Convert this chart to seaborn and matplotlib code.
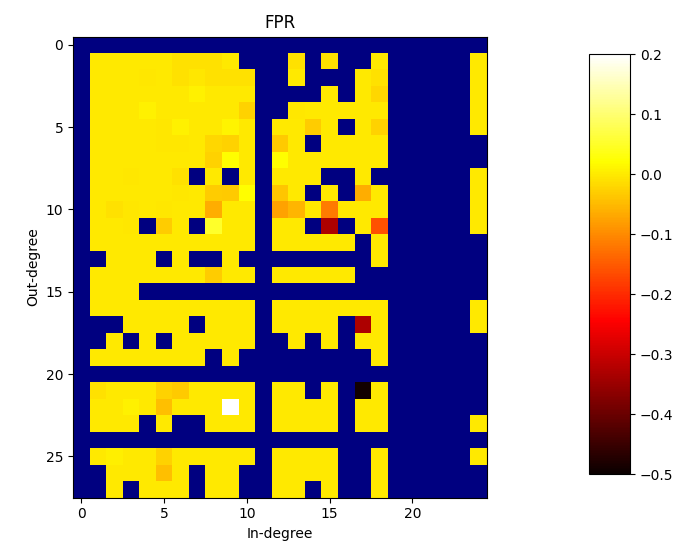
import numpy as np
import pandas as pd
import matplotlib
matplotlib.use("Agg")
import matplotlib.pyplot as plt
import seaborn as sns

_ = np.nan  # degree pair with no observations

# False-positive-rate difference per (out-degree, in-degree) pair
fpr = [
    # 0     1      2      3      4      5      6      7      8      9     10  11  12      13     14     15     16  17     18     19 20 21 22 23  24
    [_,     _,     _,     _,     _,     _,     _,     _,     _,     _,     _,  _,  _,      _,     _,     _,     _,  _,     _,     _, _, _, _, _,  _],
    [_,     0,     0,     0,     0,     0,  -0.01, -0.01, -0.01,     0,     _,  _,  _,  -0.01,     _, -0.01,     _,  _,     0,     _, _, _, _, _,  0],
    [_,     0,     0,     0,-0.005,     0,  -0.01,-0.005, -0.01, -0.01, -0.01,  _,  _,      0,     _,     _,     _,  0, -0.01,     _, _, _, _, _,  0],
    [_,     0,     0,     0,     0,     0,     0, 0.008,     0,     0,     0,  _,  _,      _,     _,     0,     _,  0, -0.02,     _, _, _, _, _,  0],
    [_,     0,     0,     0, 0.008,     0,     0,     0,     0,     0,-0.025,  _,  _, -0.005,     0,     0,     0,  0,     0,     _, _, _, _, _,  0],
    [_,     0,     0,     0,     0,-0.005, 0.008,     0,     0,  0.01,     0,  _,  0,      0, -0.03,     0,     _,  0,-0.025,     _, _, _, _, _,  0],
    [_,     0,     0,     0,     0,-0.005,-0.005,     0, -0.02,-0.025,     0,  _, -0.035,  0,     _,     0,     0,  0,     0,     _, _, _, _, _,  _],
    [_,     0,     0,     0,     0,     0,     0,     0,-0.025,  0.02,     0,  _, 0.022,   0,     0,     0,     0,  0,     0,     _, _, _, _, _,  _],
    [_,     0,     0,-0.005,     0,     0,-0.008,     _,     0,     _,     0,  _,  0,      0,     0,     _,     _,  0,     _,     _, _, _, _, _,  0],
    [_,     0,     0,     0,     0,     0,-0.005,     0, -0.03,-0.035,  0.02,  _, -0.04,  0,     _,     0,     _, -0.065, 0,     _, _, _, _, _,  0],
    [_,     0,-0.008,-0.005,     0,-0.005,     0,     0,-0.065,     0,     0,  _, -0.075, -0.055, 0, -0.115,   0,  0,     0,     _, _, _, _, _,  0],
    [_,     0,     0,-0.005,     _, -0.03,     0,     _,  0.05,     0,     0,  _,  0,      0,     _, -0.33,     _,  0, -0.16,     _, _, _, _, _,  0],
    [_,     0,     0,     0,     0,     0,     0,     0,     0,     0,     0,  _,  0,      0,     0,     0,     0,  _,     0,     _, _, _, _, _,  _],
    [_,     _,     0,     0,     0,     _,     0,     _,     _,     0,     _,  _,  _,      _,     _,     _,     _,  _,     0,     _, _, _, _, _,  _],
    [_,     0,     0,     0,     0,     0,     0,     0, -0.03,     0,     0,  _,  0,      0,     0,     0,     0,  _,     _,     _, _, _, _, _,  _],
    [_,     0,     0,     0,     _,     _,     _,     _,     _,     _,     _,  _,  _,      _,     _,     _,     _,  _,     _,     _, _, _, _, _,  _],
    [_,     0,     0,     0,     0,     0,     0,     0,     0,     0,     0,  _,  0,      0,     0,     0,     0,  0,     0,     _, _, _, _, _,  0],
    [_,     _,     _,     0,     0,     0,     0,     _,     0,     0,     0,  _,  0,      0,     0,     0,     _, -0.33,  0,     _, _, _, _, _,  0],
    [_,     _,     0,     _,     0,     _,     0,     0,     0,     0,     0,  _,  _,      0,     _,     0,     _,  0,     0,     _, _, _, _, _,  _],
    [_,     0,     0,     0,     0,     0,     0,     0,     _,     0,     _,  _,  _,      _,     _,     _,     _,  _,     0,     _, _, _, _, _,  _],
    [_,     _,     _,     _,     _,     _,     _,     _,     _,     _,     _,  _,  _,      _,     _,     _,     _,  _,     _,     _, _, _, _, _,  _],
    [_,-0.008,     0,     0,     0,-0.025,-0.035,     0,     0,     0,     0,  _,  0,      0,     _,     0,     _, -0.49,  0,     _, _, _, _, _,  _],
    [_,     0,     0, 0.008,     0,-0.045,     0,     0,     0,   0.2,     0,  _,  0,      0,     0,     0,     _,  0,     0,     _, _, _, _, _,  _],
    [_,     0,     0,     0,     _,     0,     _,     _,     0,     0,     0,  _,  0,      0,     0,     0,     _,  0,     0,     _, _, _, _, _,  0],
    [_,     _,     _,     _,     _,     _,     _,     _,     _,     _,     _,  _,  _,      _,     _,     _,     _,  _,     _,     _, _, _, _, _,  _],
    [_,     0, 0.005,     0,     0,-0.025,     0,     0,     0,     0,     0,  _,  0,      0,     0,     0,     _,  _,     0,     _, _, _, _, _,  0],
    [_,     _,     0,     0,     0,-0.045,     0,     _,     0,     0,     _,  _,  0,      0,     0,     0,     _,  _,     0,     _, _, _, _, _,  _],
    [_,     _,     0,     _,     0,     0,     0,     _,     0,     0,     _,  _,  0,      0,     _,     0,     _,  _,     0,     _, _, _, _, _,  _],
]

in_degree = list(range(25))
out_degree = list(range(28))
x_ticks = [0, 5, 10, 15, 20]
y_ticks = [0, 5, 10, 15, 20, 25]
cbar_ticks = [0.2, 0.1, 0.0, -0.1, -0.2, -0.3, -0.4, -0.5]

df = pd.DataFrame(fpr, index=out_degree, columns=in_degree)

fig = plt.figure(figsize=(6.86, 5.56), dpi=100)
ax = fig.add_axes([0.1064, 0.1052, 0.6035, 0.8291])
cax = fig.add_axes([0.8586, 0.1469, 0.0598, 0.7554])

sns.heatmap(df, ax=ax, cbar_ax=cax, cmap="hot", vmin=-0.5, vmax=0.2,
            mask=df.isna(), xticklabels=False, yticklabels=False,
            cbar_kws={"ticks": cbar_ticks})
ax.set_facecolor("#000080")

ax.set_xticks([t + 0.5 for t in x_ticks])
ax.set_xticklabels([str(t) for t in x_ticks], rotation=0)
ax.set_yticks([t + 0.5 for t in y_ticks])
ax.set_yticklabels([str(t) for t in y_ticks], rotation=0)
ax.tick_params(length=3.5, width=0.8, labelsize=10)
for s in ax.spines.values():
    s.set_visible(True)
    s.set_linewidth(0.8)
    s.set_color("black")

ax.set_title("FPR", fontsize=12, pad=6)
ax.set_xlabel("In-degree", fontsize=10)
ax.set_ylabel("Out-degree", fontsize=10)

cb = ax.collections[0].colorbar
cb.outline.set_visible(True)
cb.outline.set_linewidth(0.8)
cb.outline.set_edgecolor("black")
cax.tick_params(length=3.5, width=0.8, labelsize=10)

fig.savefig("out.png", dpi=100)
